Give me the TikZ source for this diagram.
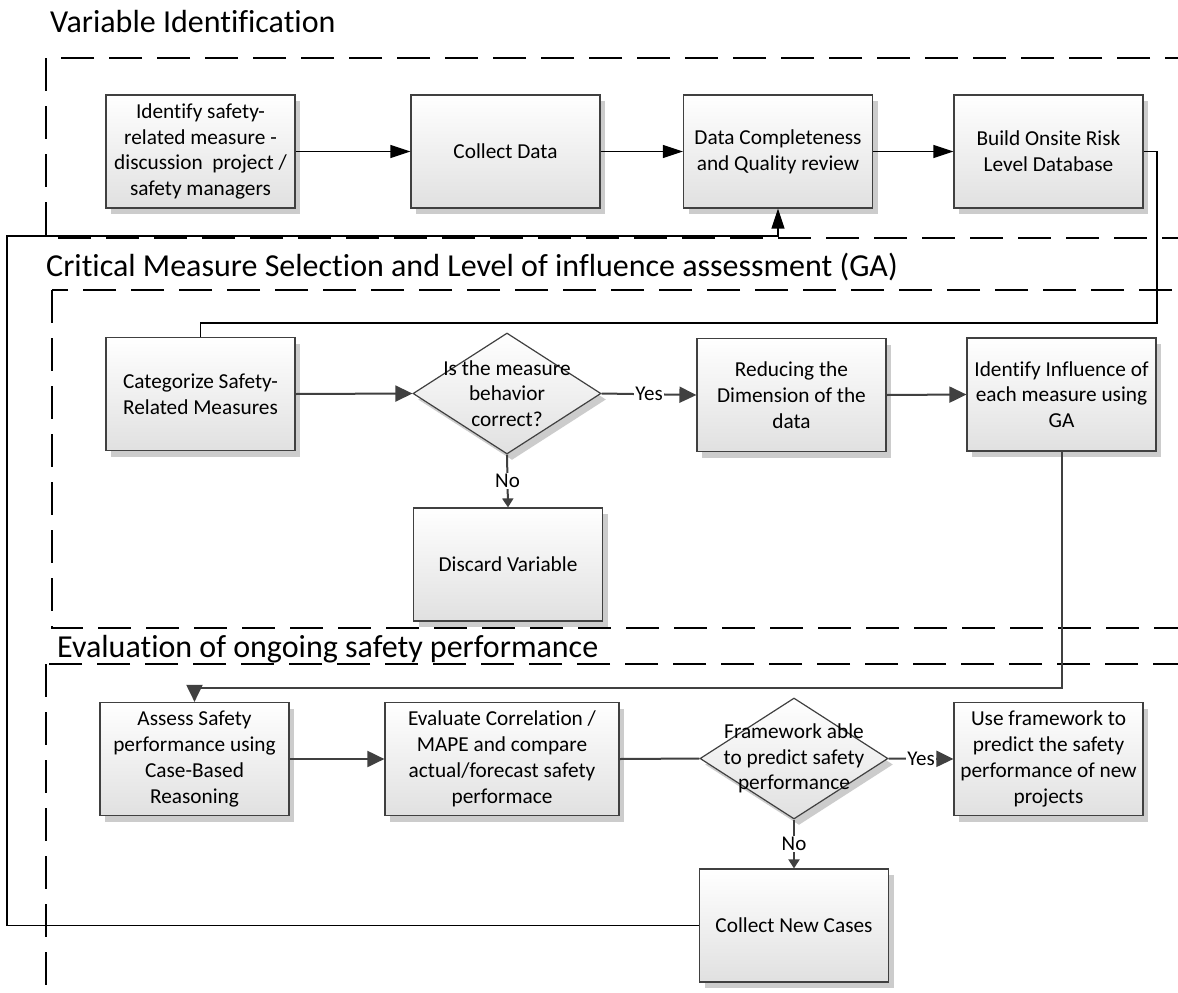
\documentclass[tikz,border=0pt]{standalone}
\usepackage{fontspec}
\setmainfont{Carlito}[Ligatures=CommonOff]
\usetikzlibrary{arrows.meta,shapes.geometric,shadows}
\begin{document}
\begin{tikzpicture}[x=1pt,y=-1pt,
  frame/.style={draw=black, line width=1.8pt, dash pattern=on 33pt off 15pt},
  title/.style={anchor=base west, inner sep=0pt, font=\fontsize{32}{38}\selectfont},
  box/.style={draw=black!75, line width=1.2pt, top color=white, bottom color=black!12,
    minimum width=189pt, minimum height=113pt, inner sep=0pt, align=center,
    font=\fontsize{21.3}{25.8}\selectfont,
    drop shadow={shadow xshift=5pt, shadow yshift=-6pt, fill=black!20, opacity=1}},
  dia/.style={shape=diamond, draw=black!75, line width=1.2pt, top color=white, bottom color=black!12,
    minimum width=188pt, minimum height=121pt, inner sep=0pt,
    drop shadow={shadow xshift=5pt, shadow yshift=-6pt, fill=black!20, opacity=1}},
  diatxt/.style={align=center, inner sep=0pt, font=\fontsize{21.3}{25.8}\selectfont},
  lbl/.style={fill=white, inner sep=1pt, font=\fontsize{21}{24}\selectfont},
  arrowA/.style={draw=black, line width=1.3pt, -{Triangle[length=20pt,width=13pt]}},
  lineA/.style={draw=black, line width=1.5pt},
  arrowB/.style={draw=black!75, line width=2pt, -{Triangle[length=17pt,width=16pt]}},
  lineB/.style={draw=black!75, line width=2pt},
  arrowC/.style={draw=black!75, line width=2pt, -{Triangle[length=9pt,width=11pt]}}
]
\useasboundingbox (0,0) rectangle (1178,993);
\fill[white] (0,0) rectangle (1178,993);
\begin{scope}
  \clip (0,0) rectangle (1178,993);
  \draw[frame] (46,58) rectangle (1210,238);
  \draw[frame] (52,290) rectangle (1210,628);
  \draw[frame] (46,664) rectangle (1210,1030);
\end{scope}

% titles
\node[title] (t1) at (50,32) {Variable Identification};
\node[title] (t2) at (46,276) {Critical Measure Selection and Level of influence assessment (GA)};
\node[title] (t3) at (57,657) {Evaluation of ongoing safety performance};

% coordinates for elbow connectors
\coordinate (k1) at (1157,323);
\coordinate (k2) at (600,688);
\coordinate (k4) at (7,236);

% nodes
\node[box] (b1) at (200.5,151.5) {Identify safety-\\related measure -\\discussion\ \ project /\\safety managers};
\node[box] (b2) at (505.5,151.5) {Collect Data};
\node[box] (b3) at (778,151.5) {Data Completeness\\and Quality review};
\node[box] (b4) at (1048.5,151.5) {Build Onsite Risk\\Level Database};

\node[box] (cat) at (200.5,394) {Categorize Safety-\\Related Measures};
\node[dia] (d1) at (507,393.5) {};
\node[diatxt] (d1t) at (d1.center) {Is the measure\\behavior\\correct?};
\node[box] (red) at (791.5,395) {Reducing the\\Dimension of the\\data};
\node[box] (idi) at (1061.5,394.5) {Identify Influence of\\each measure using\\GA};
\node[box] (disc) at (508,564.5) {Discard Variable};

\node[box] (ass) at (194.5,759) {Assess Safety\\performance using\\Case-Based\\Reasoning};
\node[box, minimum width=234pt] (eva) at (502,759) {Evaluate Correlation /\\MAPE and compare\\actual/forecast safety\\performace};
\node[dia] (d2) at (794,758.5) {};
\node[diatxt] (d2t) at (d2.center) {Framework able\\to predict safety\\performance};
\node[box] (use) at (1048.5,759) {Use framework to\\predict the safety\\performance of new\\projects};
\node[box] (cnc) at (794,925.5) {Collect New Cases};

% connectors row 1
\draw[arrowA] (b1.east) -- (b2.west);
\draw[arrowA] (b2.east) -- (b3.west);
\draw[arrowA] (b3.east) -- (b4.west);
\draw[lineA] (b4.east) -| (k1) -| (cat.north);

% row 2
\draw[arrowB] (cat.east) -- (d1.west);
\draw[arrowB] (d1.east) -- node[lbl] {Yes} (red.west);
\draw[arrowB] (red.east) -- (idi.west);
\draw[arrowC] (d1.south) -- node[lbl] {No} (disc.north);
\draw[arrowB] (idi.south) |- (k2) -| (ass.north);

% row 3
\draw[arrowB] (ass.east) -- (eva.west);
\draw[lineB] (eva.east) -- (d2.west);
\draw[arrowB] (d2.east) -- node[lbl] {Yes} (use.west);
\draw[arrowC] (d2.south) -- node[lbl] {No} (cnc.north);
\draw[arrowA] (cnc.west) -| (k4) -| (b3.south);
\end{tikzpicture}
\end{document}
